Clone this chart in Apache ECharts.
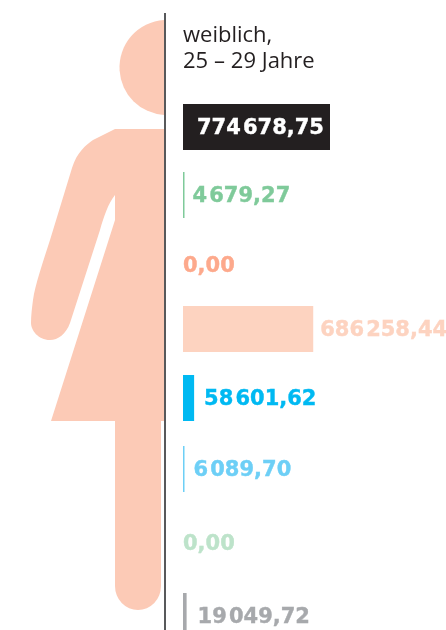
<!DOCTYPE html>
<html>
<head>
<meta charset="utf-8">
<style>
  html, body { margin: 0; padding: 0; background: #fff; }
  #main { width: 446px; height: 630px; }
</style>
</head>
<body>
<div id="main"></div>
<script src="https://cdn.jsdelivr.net/npm/echarts@6/dist/echarts.min.js"></script>
<script>
  var heading = 'weiblich,\n25\u2009\u200a\u2013\u2009\u200a29 Jahre'
  var values = [774678.75, 4679.27, 0, 686258.44, 58601.62, 6089.70, 0, 19049.72]
  var colors = ['#231f20', '#7fca9a', '#fda98c', '#fdd3c0', '#00b9f2', '#6dcff6', '#bde3ca', '#a7a9ac']
  var labelColors = ['#ffffff', '#7fca9a', '#fda98c', '#fdd3c0', '#00b9f2', '#6dcff6', '#bde3ca', '#a7a9ac']

  // row tops, the rows are not evenly spaced in the original
  var rowTops = [104, 172, 242, 306, 375, 446, 520, 593]
  var rowHeight = 46
  var labelGaps = [14, 8, 0, 7, 10, 9, 0, 11]

  var fontBold = '"DejaVu Sans", sans-serif'

  // silhouette outlines, one half of the figure
  var headPath = 'M164 20 A47.6 47.6 0 0 0 164 115 Z'
  var bodyPath = 'M164 129 L115 129 L93 140 C86 145 77 152 72 168 L50 240 C43 262 35 285 33 300 ' +
    'C32 308 31 315 31 323 C31 330 38 340 50 340 C58 340 66 334 70 323 L100 230 ' +
    'C104 216 108 204 115 195 L115 220 L51 421 L115 421 L115 586 A23 24 0 0 0 161 586 L161 421 L164 421 Z'
  echarts.graphic.registerShape('figureHead', echarts.graphic.extendPath(headPath, {}))
  echarts.graphic.registerShape('figureBody', echarts.graphic.extendPath(bodyPath, {}))

  function formatValue (v) {
    var parts = v.toFixed(2).split('.')
    return parts[0].replace(/\B(?=(\d{3})+$)/g, '\u200a') + ',' + parts[1]
  }

  var grids = []
  var xAxes = []
  var yAxes = []
  var series = []
  values.forEach(function (v, i) {
    // outerBoundsMode none, otherwise the last row gets squeezed into the canvas
    grids.push({left: 183, width: 147, top: rowTops[i], height: rowHeight, outerBoundsMode: 'none'})
    xAxes.push({type: 'value', gridIndex: i, min: 0, max: 774678.75, show: false})
    yAxes.push({type: 'category', gridIndex: i, data: [i], show: false})
    series.push({
      type: 'bar',
      xAxisIndex: i,
      yAxisIndex: i,
      barWidth: rowHeight,
      barMinHeight: v > 0 ? 1.5 : 0,
      data: [v],
      silent: true,
      itemStyle: {color: colors[i]},
      label: {
        show: true,
        position: i === 0 ? 'insideLeft' : 'right',
        distance: labelGaps[i],
        offset: [0, 2],
        color: labelColors[i],
        fontFamily: fontBold,
        fontWeight: 'bold',
        fontSize: 21,
        textBorderColor: labelColors[i],
        textBorderWidth: 0.4,
        formatter: function (p) { return formatValue(p.value) }
      }
    })
  })

  var myChart = echarts.init(document.getElementById('main'), null, {renderer: 'canvas'})
  myChart.setOption({
    animation: false,
    backgroundColor: '#ffffff',
    title: {
      text: heading,
      left: 183,
      top: 23,
      padding: 0,
      textStyle: {
        color: '#231f20',
        fontFamily: '"Open Sans", sans-serif',
        fontWeight: 'normal',
        fontSize: 22,
        lineHeight: 26
      }
    },
    grid: grids,
    xAxis: xAxes,
    yAxis: yAxes,
    series: series,
    graphic: [
      {type: 'figureHead', silent: true, style: {fill: '#fccab6'}},
      {type: 'figureBody', silent: true, style: {fill: '#fccab6'}},
      {
        type: 'rect',
        silent: true,
        shape: {x: 164, y: 13, width: 2, height: 617},
        style: {fill: '#58595b'}
      }
    ]
  })
</script>
</body>
</html>
